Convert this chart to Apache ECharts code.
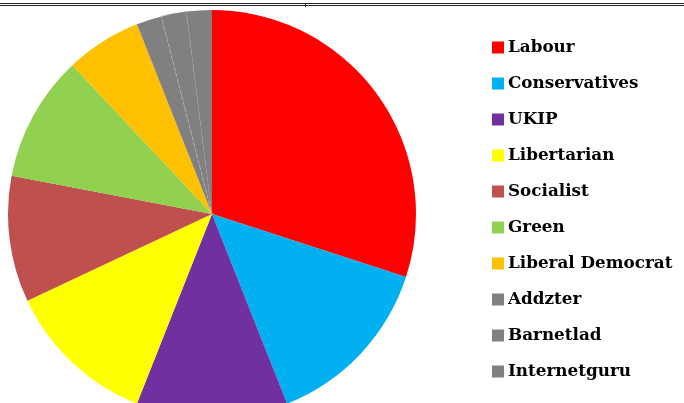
<!DOCTYPE html>
<html><head><meta charset="utf-8">
<script src="https://cdn.jsdelivr.net/npm/echarts@6/dist/echarts.min.js"></script>
<style>html,body{margin:0;padding:0;background:#fff}#c{width:684px;height:403px}</style>
</head><body><div id="c"></div>
<script>
const categories = ['Labour','Conservatives','UKIP','Libertarian','Socialist','Green','Liberal Democrat','Addzter','Barnetlad','Internetguru'];
const values = [15,7,6,6,5,5,3,1,1,1];
const colors = ['#FF0000','#00B0F0','#7030A0','#FFFF00','#C0504D','#92D050','#FFC000','#808080','#808080','#808080'];

const chart = echarts.init(document.getElementById('c'), null, {renderer:'canvas'});
const data = categories.map((n,i)=>{
  const d = {name:n, value:values[i], itemStyle:{color:colors[i]}};
  if (n==='Barnetlad') d.itemStyle = {color:colors[i], borderColor:'#b0b0b0', borderWidth:1, borderType:[3,3]};
  return d;
});
chart.setOption({
  animation:false,
  backgroundColor:'#fff',
  legend:{
    orient:'vertical', left:492, top:39, padding:0,
    itemWidth:12, itemHeight:12, itemGap:19,
    icon:'rect',
    itemStyle:{borderWidth:0},
    textStyle:{fontFamily:'DejaVu Serif', fontWeight:'bold', fontSize:16.8, color:'#000', lineHeight:16, padding:[0,0,0,-1]},
    data:categories
  },
  graphic:[
    {type:'line', shape:{x1:0,y1:3.5,x2:684,y2:3.5}, style:{stroke:'#222',lineWidth:1}},
    {type:'line', shape:{x1:0,y1:5.5,x2:684,y2:5.5}, style:{stroke:'#222',lineWidth:1}},
    {type:'line', shape:{x1:305.5,y1:3,x2:305.5,y2:7}, style:{stroke:'#222',lineWidth:1}}
  ],
  series:[{
    type:'pie', center:[212,214], radius:204, startAngle:90, clockwise:true,
    label:{show:false}, labelLine:{show:false}, emphasis:{disabled:true},
    data:data
  }]
});
</script></body></html>
